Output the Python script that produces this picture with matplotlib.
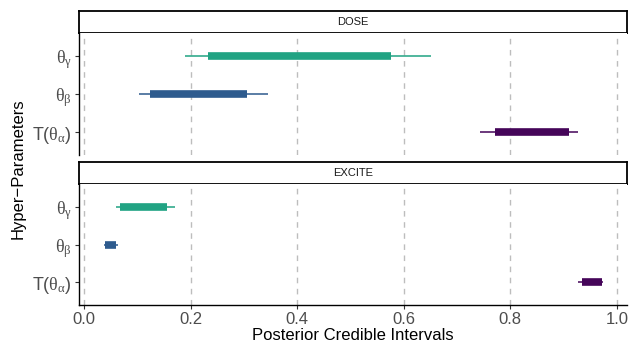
import matplotlib.pyplot as plt

plt.rcParams['font.family'] = ['Liberation Sans', 'DejaVu Sans']
plt.rcParams['mathtext.fontset'] = 'custom'
plt.rcParams['mathtext.rm'] = 'Liberation Serif'
plt.rcParams['mathtext.sf'] = 'Liberation Sans'
plt.rcParams['mathtext.it'] = 'Liberation Serif:italic'

params = [r'$\mathrm{\theta}_{\mathrm{\gamma}}$',
          r'$\mathrm{\theta}_{\mathrm{\beta}}$',
          r'$\mathsf{T(}\mathrm{\theta}_{\mathrm{\alpha}}\mathsf{)}$']
colors = ['#21A383', '#2E5B8E', '#450559']
facets = ['DOSE', 'EXCITE']

# outer (thin) and inner (thick) interval bounds per facet, order: gamma, beta, alpha
outer_lo = {'DOSE': [0.190, 0.103, 0.743], 'EXCITE': [0.060, 0.038, 0.927]}
outer_hi = {'DOSE': [0.651, 0.346, 0.927], 'EXCITE': [0.171, 0.063, 0.974]}
inner_lo = {'DOSE': [0.233, 0.123, 0.772], 'EXCITE': [0.068, 0.040, 0.934]}
inner_hi = {'DOSE': [0.577, 0.305, 0.911], 'EXCITE': [0.155, 0.060, 0.972]}

xticks = [0.0, 0.2, 0.4, 0.6, 0.8, 1.0]

fig = plt.figure(figsize=(6.3, 3.48), dpi=100)
W, H = 630, 348

def frac(x0, y0, x1, y1):
    return [x0 / W, 1 - y1 / H, (x1 - x0) / W, (y1 - y0) / H]

panels = [(11, 33, 155), (162, 184, 305)]
tick_color = '#4D4D4D'

for i, (facet, (s0, p0, p1)) in enumerate(zip(facets, panels)):
    strip = fig.add_axes(frac(79, s0, 627, p0))
    strip.set_xticks([])
    strip.set_yticks([])
    for sp in strip.spines.values():
        sp.set_linewidth(1.3)
    strip.text(0.5, 0.5, facet, ha='center', va='center', fontsize=8,
               color='#1A1A1A', transform=strip.transAxes)

    ax = fig.add_axes(frac(79, p0, 627, p1))
    ax.set_xlim(-0.0094, 1.019)
    ax.set_ylim(3.6, 0.4)
    for x in xticks:
        ax.axvline(x, color='#BDBDBD', lw=1.0, ls=(0, (4, 4)), zorder=0)
    for j, c in enumerate(colors):
        y = j + 1
        ax.hlines(y, outer_lo[facet][j], outer_hi[facet][j], color=c, lw=1.3,
                  alpha=0.85, zorder=2)
        ax.hlines(y, inner_lo[facet][j], inner_hi[facet][j], color=c, lw=5.5,
                  zorder=3)
    ax.set_yticks([1, 2, 3])
    ax.set_yticklabels(params, fontsize=13, color=tick_color)
    ax.tick_params(axis='y', length=3, color='#333333', pad=2)
    ax.spines['top'].set_visible(False)
    ax.spines['right'].set_visible(False)
    ax.spines['left'].set_linewidth(1.0)
    if i == 0:
        ax.spines['bottom'].set_visible(False)
        ax.set_xticks([])
    else:
        ax.spines['bottom'].set_linewidth(1.0)
        ax.set_xticks(xticks)
        ax.set_xticklabels([f'{x:.1f}' for x in xticks], fontsize=12,
                           color=tick_color)
        ax.tick_params(axis='x', length=3, color='#333333', pad=2)
        ax.set_xlabel('Posterior Credible Intervals', fontsize=12,
                      labelpad=1)

fig.text(0.028, 0.515, 'Hyper\u2212Parameters', rotation=90, ha='center',
         va='center', fontsize=12)

fig.savefig('out.png', dpi=100)
